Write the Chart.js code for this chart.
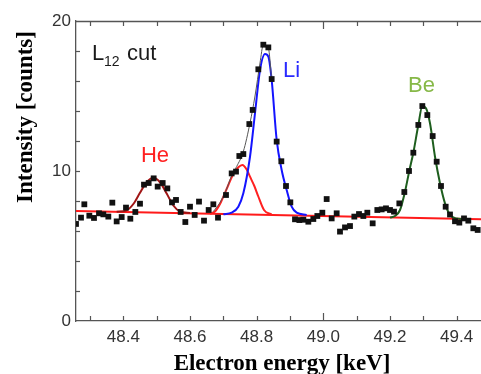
<!DOCTYPE html>
<html>
<head>
<meta charset="utf-8">
<script src="https://cdn.jsdelivr.net/npm/chart.js@4.4.1/dist/chart.umd.min.js"></script>
<style>
html,body{margin:0;padding:0;background:#fff;}
#wrap{width:481px;height:374px;}
</style>
</head>
<body>
<div id="wrap"><canvas id="c" width="481" height="374"></canvas></div>
<script>
// ---- measured data (Electron energy [keV], Intensity [counts]) ----
const dataX = [48.258,48.273,48.283,48.298,48.312,48.327,48.340,48.355,48.367,48.380,48.395,48.408,48.421,48.436,48.450,48.462,48.476,48.491,48.503,48.518,48.532,48.546,48.558,48.572,48.586,48.600,48.614,48.627,48.642,48.656,48.670,48.684,48.708,48.725,48.738,48.748,48.760,48.778,48.788,48.805,48.820,48.835,48.845,48.860,48.874,48.888,48.901,48.915,48.928,48.940,48.955,48.970,48.982,48.997,49.010,49.025,49.040,49.050,49.065,49.080,49.093,49.107,49.120,49.132,49.148,49.162,49.175,49.188,49.200,49.212,49.228,49.243,49.257,49.270,49.285,49.297,49.312,49.328,49.340,49.353,49.367,49.380,49.395,49.408,49.422,49.435,49.450,49.463];
const dataY = [6.47,6.89,7.78,7.02,6.87,7.18,7.11,6.96,7.89,6.64,6.93,7.56,6.82,7.27,7.82,9.09,9.20,9.51,8.96,9.20,8.84,7.91,8.07,7.27,6.60,7.62,7.07,7.96,6.69,7.40,7.78,6.89,8.40,9.84,9.96,11.00,11.13,13.13,14.07,16.78,18.42,18.24,16.13,11.96,10.65,9.00,7.91,6.78,6.73,6.75,6.62,6.80,7.00,7.22,8.13,6.84,7.18,5.96,6.24,6.33,6.96,7.13,7.00,7.22,6.51,7.40,7.44,7.51,7.40,7.29,7.84,8.60,10.00,11.22,13.07,14.33,13.73,12.33,10.62,9.00,7.62,7.10,6.65,6.56,6.84,6.69,6.18,6.07];

// fitted curves
const baseX = [48.258, 49.473];
const baseY = [7.33, 6.78];

const heX = [48.38,48.41,48.43,48.45,48.47,48.49,48.51,48.53,48.55,48.57,48.60];
const heY = [7.28,7.38,7.80,8.55,9.25,9.55,9.25,8.50,7.70,7.30,7.20];

const liLowX = [48.66,48.675,48.69,48.708,48.73,48.745,48.757,48.77,48.78,48.793,48.805,48.822,48.845];
const liLowY = [7.15,7.30,7.80,8.70,9.80,10.25,10.40,10.10,9.62,9.00,8.30,7.40,7.10];

const liX = [48.70,48.725,48.745,48.76,48.78,48.795,48.81,48.825,48.835,48.845,48.86,48.875,48.89,48.905,48.92,48.95];
const liY = [7.12,7.22,7.62,8.51,10.95,13.85,16.73,17.80,17.62,16.07,12.07,10.07,8.73,7.62,7.22,7.07];

const sumX = [48.67,48.69,48.708,48.725,48.74,48.76,48.78,48.795,48.81,48.82,48.835,48.845];
const sumY = [7.30,7.90,8.70,9.70,10.30,11.30,13.20,15.00,17.20,18.40,18.20,16.10];

const beX = [49.20,49.215,49.23,49.245,49.258,49.27,49.285,49.297,49.308,49.32,49.335,49.35,49.365,49.38,49.40,49.42];
const beY = [6.90,7.00,7.40,8.62,10.02,11.22,13.07,14.33,14.18,13.18,10.95,9.18,7.84,7.07,6.84,6.80];

// axes
const xMin = 48.258, xMax = 49.473;
const yMin = 0, yMax = 20;
const xTickLabels = [48.4, 48.6, 48.8, 49.0, 49.2, 49.4];
const xMinorTicks = [48.3,48.4,48.5,48.6,48.7,48.8,48.9,49.0,49.1,49.2,49.3,49.4];
const xMajorTicks = [49.0];
const yTickLabels = [0, 10, 20];
const yMinorTicks = [2,4,6,8,10,12,14,16,18];

const xTitle = 'Electron energy [keV]';
const yTitle = 'Intensity [counts]';
const labels = {he: 'He', li: 'Li', be: 'Be', cutMain: 'L', cutSub: '12', cutRest: 'cut'};

function pts(xs, ys){ return xs.map((v,i)=>({x:v, y:ys[i]})); }

const AXIS = '#555555';

const deco = {
  id: 'deco',
  afterDraw(chart){
    const {ctx, chartArea:a, scales:{x, y}} = chart;
    ctx.save();
    ctx.strokeStyle = AXIS;
    ctx.lineWidth = 1.3;
    ctx.beginPath();
    ctx.moveTo(a.left, a.top + 0.5); ctx.lineTo(a.right, a.top + 0.5);
    ctx.stroke();
    ctx.lineWidth = 1.2;
    xMinorTicks.forEach(v => {
      const px = Math.round(x.getPixelForValue(v)) + 0.5;
      const len = xMajorTicks.some(m => Math.abs(m - v) < 1e-6) ? 8 : 5;
      ctx.beginPath();
      ctx.moveTo(px, a.bottom); ctx.lineTo(px, a.bottom - len);
      ctx.moveTo(px, a.top); ctx.lineTo(px, a.top + len);
      ctx.stroke();
    });
    yMinorTicks.forEach(v => {
      const py = Math.round(y.getPixelForValue(v)) + 0.5;
      ctx.beginPath();
      ctx.moveTo(a.left, py); ctx.lineTo(a.left + 4, py);
      ctx.stroke();
    });

    // peak labels
    ctx.textBaseline = 'alphabetic';
    ctx.font = '22px "Liberation Sans", Arial, sans-serif';
    ctx.fillStyle = '#1a1a1a';
    ctx.textAlign = 'left';
    ctx.fillText(labels.cutMain, 92, 60);
    ctx.font = '14px "Liberation Sans", Arial, sans-serif';
    ctx.fillText(labels.cutSub, 104, 66);
    ctx.font = '22px "Liberation Sans", Arial, sans-serif';
    ctx.fillText(labels.cutRest, 127, 60);

    ctx.fillStyle = '#ff2020';
    ctx.textAlign = 'center';
    ctx.fillText(labels.he, 155, 162);
    ctx.fillStyle = '#2a2aff';
    ctx.textAlign = 'left';
    ctx.fillText(labels.li, 283, 77);
    ctx.fillStyle = '#86b847';
    ctx.fillText(labels.be, 408, 92);

    // axis titles
    ctx.fillStyle = '#000';
    ctx.font = 'bold 23px "Liberation Serif", "Times New Roman", serif';
    ctx.textAlign = 'center';
    ctx.fillText(xTitle, 282, 370);
    ctx.save();
    ctx.translate(32, 117);
    ctx.rotate(-Math.PI/2);
    ctx.fillText(yTitle, 0, 0);
    ctx.restore();
    ctx.restore();
  }
};

const curve = (xs, ys, color, w) => ({
  type: 'scatter', data: pts(xs, ys), showLine: true, borderColor: color,
  borderWidth: w, pointRadius: 0, cubicInterpolationMode: 'monotone', fill: false
});

new Chart(document.getElementById('c'), {
  type: 'scatter',
  data: {
    datasets: [
      { data: pts(dataX, dataY), pointStyle: 'rect', pointRadius: 4.1,
        backgroundColor: '#111', borderWidth: 0, showLine: false },
      curve(sumX, sumY, '#555555', 1),
      curve(liX, liY, '#1414ff', 2),
      curve(beX, beY, '#1e5e1e', 2),
      curve(heX, heY, '#a01515', 2),
      curve(liLowX, liLowY, '#ff2020', 2),
      { data: pts(baseX, baseY), showLine: true, borderColor: '#ff1a1a', borderWidth: 2,
        pointRadius: 0, tension: 0 }
    ]
  },
  options: {
    responsive: false,
    animation: false,
    devicePixelRatio: 1,
    events: [],
    layout: { autoPadding: false, padding: { top: 21, left: 0, right: 0, bottom: 0 } },
    plugins: { legend: { display: false }, tooltip: { enabled: false } },
    scales: {
      x: {
        type: 'linear', min: xMin, max: xMax,
        grid: { display: false, drawTicks: false },
        border: { display: true, color: AXIS, width: 1.3 },
        afterBuildTicks: s => { s.ticks = xTickLabels.map(v => ({value: v})); },
        afterFit: s => { s.height = 53; s.paddingLeft = 0; s.paddingRight = 0; },
        ticks: {
          autoSkip: false, maxRotation: 0, padding: 6,
          color: '#333', font: { family: '"Liberation Sans", Arial, sans-serif', size: 17 },
          callback: v => Number(v).toFixed(1)
        }
      },
      y: {
        type: 'linear', min: yMin, max: yMax,
        grid: { display: false, drawTicks: false },
        border: { display: true, color: AXIS, width: 1.3 },
        afterBuildTicks: s => { s.ticks = yTickLabels.map(v => ({value: v})); },
        afterFit: s => { s.width = 76; s.paddingTop = 0; s.paddingBottom = 0; },
        ticks: {
          padding: 5,
          color: '#333', font: { family: '"Liberation Sans", Arial, sans-serif', size: 17 },
          callback: v => String(v)
        }
      }
    }
  },
  plugins: [deco]
});
</script>
</body>
</html>
